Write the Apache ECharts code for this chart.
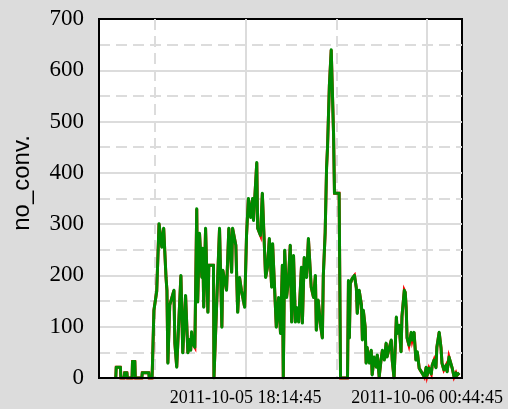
<!DOCTYPE html>
<html>
<head>
<meta charset="utf-8">
<script src="https://cdn.jsdelivr.net/npm/echarts@6/dist/echarts.min.js"></script>
<style>
html, body { margin: 0; padding: 0; background: #dcdcdc; }
#main { width: 508px; height: 409px; }
</style>
</head>
<body>
<div id="main"></div>
<script>
// time window shown and the two labelled ticks
var viewStart = '2011-10-05 12:59:45';
var viewEnd = '2011-10-06 01:59:45';
var labelTimes = ['2011-10-05 18:14:45', '2011-10-06 00:44:45'];
var yTicks = [0, 100, 200, 300, 400, 500, 600, 700];

// minutes elapsed since viewStart for each sample
var elapsedMin = [
	36, 37, 46, 47, 54, 55, 60, 61, 71, 72,
	77, 78, 92, 93, 107, 108, 114, 115, 118, 124,
	129, 131, 135, 139, 144, 146, 148, 152, 161, 163,
	167, 176, 180, 186, 191, 195, 197, 199, 201, 206,
	210, 212, 216, 221, 223, 225, 229, 234, 236, 246,
	247, 248, 253, 259, 264, 266, 274, 279, 285, 287,
	294, 298, 302, 306, 313, 317, 321, 326, 330, 332,
	339, 341, 347, 351, 358, 362, 366, 371, 373, 377,
	381, 386, 390, 394, 396, 399, 403, 407, 411, 414,
	418, 422, 424, 429, 435, 437, 441, 446, 450, 454,
	456, 461, 465, 467, 471, 476, 480, 482, 486, 489,
	491, 495, 499, 501, 504, 506, 516, 519, 534, 536,
	538, 540, 544, 549, 553, 555, 559, 564, 566, 568,
	572, 574, 576, 581, 585, 587, 591, 596, 598, 602,
	606, 609, 613, 617, 619, 624, 628, 630, 634, 639,
	641, 645, 649, 651, 656, 658, 660, 662, 666, 671,
	673, 677, 681, 684, 688, 692, 694, 699, 703, 705,
	709, 714, 716, 720, 724, 726, 731, 735, 737, 741,
	746, 748, 752, 756, 759, 763, 767, 769, 774
];
var noConv = [
	0, 21, 21, 0, 0, 10, 10, 0, 0, 32,
	32, 0, 0, 10, 10, 0, 0, 30, 132, 169,
	301, 301, 255, 292, 196, 171, 29, 142, 171, 68,
	21, 200, 49, 161, 49, 75, 54, 90, 68, 60,
	330, 148, 282, 196, 253, 138, 292, 128, 220, 220,
	0, 0, 148, 292, 99, 210, 171, 292, 206, 292,
	259, 128, 196, 171, 138, 278, 350, 313, 350, 307,
	420, 292, 278, 360, 196, 216, 272, 177, 262, 181,
	99, 157, 87, 220, 0, 249, 157, 190, 259, 109,
	239, 109, 138, 109, 216, 107, 235, 196, 272, 270,
	177, 157, 200, 93, 152, 103, 78, 200, 284, 410,
	449, 570, 640, 640, 476, 360, 360, 0, 0, 190,
	78, 184, 194, 200, 175, 126, 171, 142, 74, 132,
	99, 29, 60, 29, 54, 6, 41, 21, 45, 2,
	35, 54, 35, 68, 41, 60, 74, 35, 0, 119,
	87, 103, 51, 120, 171, 167, 138, 78, 64, 89,
	74, 89, 35, 51, 19, 21, 10, 2, 21, 5,
	19, 8, 25, 35, 20, 60, 89, 58, 29, 16,
	25, 12, 41, 38, 19, 2, 10, 5, 10
];

function parseUTC(s) {
	var p = s.split(/[- :]/).map(Number);
	return Date.UTC(p[0], p[1] - 1, p[2], p[3], p[4], p[5]);
}
function pad(n) { return (n < 10 ? '0' : '') + n; }
function fmt(ms) {
	var d = new Date(ms);
	return d.getUTCFullYear() + '-' + pad(d.getUTCMonth() + 1) + '-' + pad(d.getUTCDate()) + ' ' +
		pad(d.getUTCHours()) + ':' + pad(d.getUTCMinutes()) + ':' + pad(d.getUTCSeconds());
}

// x axis in units where 100 = distance between the labelled ticks, 0 = first label
var t0 = parseUTC(viewStart);
var origin = parseUTC(labelTimes[0]);
var unitMs = (parseUTC(labelTimes[1]) - origin) / 100;
function toUnit(ms) { return (ms - origin) / unitMs; }

var points = elapsedMin.map(function (m, i) {
	return [toUnit(t0 + m * 60000), noConv[i]];
});

var gridColor = '#dcdcdc';
var xMin = toUnit(parseUTC(viewStart));
var xMax = toUnit(parseUTC(viewEnd));
var myChart = echarts.init(document.getElementById('main'));

var option = {
	animation: false,
	backgroundColor: '#dcdcdc',
	grid: {
		left: 99, right: 46, top: 19, bottom: 31,
		show: true, backgroundColor: '#fff', borderColor: '#000', borderWidth: 2
	},
	graphic: [{
		type: 'text', x: 22, y: 183, rotation: Math.PI / 2,
		style: {
			text: 'no_conv.', font: '24px "Liberation Sans"', fill: '#000',
			textAlign: 'center', textVerticalAlign: 'middle'
		}
	}],
	xAxis: [{
		type: 'value',
		min: xMin,
		max: xMax,
		splitNumber: 2,
		axisLine: { show: false },
		axisTick: { show: false },
		axisLabel: {
			showMinLabel: false, showMaxLabel: false,
			margin: 11, color: '#000',
			fontFamily: 'Liberation Serif', fontSize: 18,
			formatter: function (v) {
				if (Math.abs(v - Math.round(v / 100) * 100) > 1e-6) return '';
				return fmt(origin + v * unitMs);
			}
		},
		splitLine: { show: true, showMinLine: false, showMaxLine: false, lineStyle: { color: gridColor, width: 2 } },
		minorTick: { show: false, splitNumber: 2 },
		minorSplitLine: { show: true, lineStyle: { color: gridColor, width: 2, type: [11, 6] } }
	}, {
		type: 'value',
		position: 'bottom',
		min: xMin,
		max: xMax,
		z: 10,
		axisLine: { show: true, onZero: false, lineStyle: { color: '#000', width: 2 } },
		axisTick: { show: false },
		axisLabel: { show: false },
		splitLine: { show: false }
	}],
	yAxis: {
		type: 'value',
		min: yTicks[0], max: yTicks[yTicks.length - 1], interval: yTicks[1] - yTicks[0],
		axisLine: { show: true, onZero: false, lineStyle: { color: '#000', width: 2 } },
		axisTick: { show: false },
		axisLabel: {
			margin: 15, color: '#000',
			fontFamily: 'Liberation Serif', fontSize: 23
		},
		splitLine: { show: true, showMinLine: false, showMaxLine: false, lineStyle: { color: gridColor, width: 2 } },
		minorTick: { show: false, splitNumber: 2 },
		minorSplitLine: { show: true, lineStyle: { color: gridColor, width: 2, type: [11, 6] } }
	},
	series: [{
		name: 'no_conv. (raw)',
		type: 'line',
		data: points,
		symbol: 'none',
		clip: false,
		z: 2,
		lineStyle: { color: '#ff0000', width: 3, join: 'miter', miterLimit: 6 }
	}, {
		name: 'no_conv.',
		type: 'line',
		data: points,
		symbol: 'none',
		z: 3,
		lineStyle: { color: '#008b00', width: 3, join: 'round' }
	}]
};
myChart.setOption(option);
</script>
</body>
</html>
